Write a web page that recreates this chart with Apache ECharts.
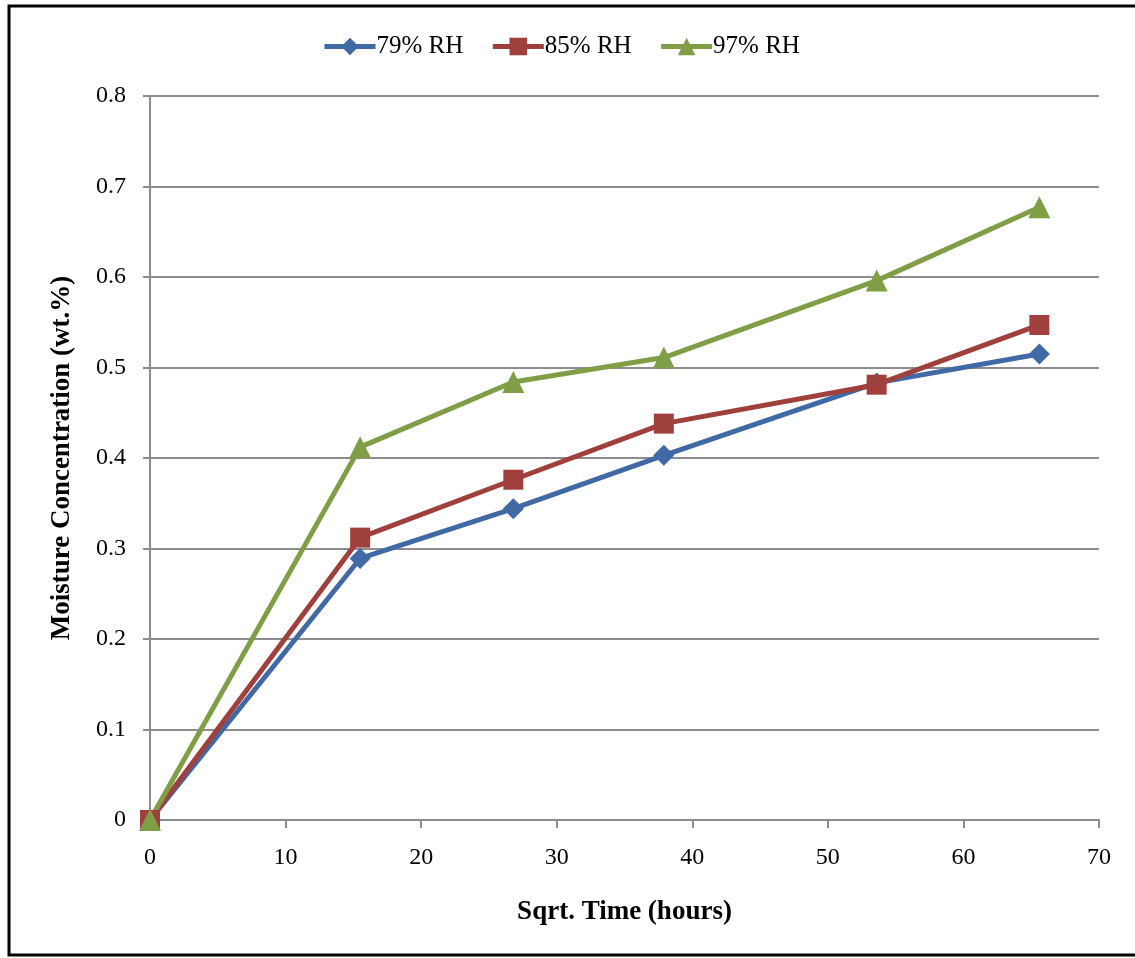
<!DOCTYPE html>
<html>
<head>
<meta charset="utf-8">
<script src="https://cdn.jsdelivr.net/npm/echarts@6/dist/echarts.min.js"></script>
<style>
  html, body { margin: 0; padding: 0; background: #fff; }
  #chart { width: 1135px; height: 958px; }
</style>
</head>
<body>
<div id="chart"></div>
<script>
// Square root of exposure time (hours^0.5)
const sqrtTime = [0, 15.5, 26.8, 37.9, 53.6, 65.6];
// Moisture uptake (wt.%) at each relative humidity
const rh79 = [0, 0.289, 0.344, 0.403, 0.483, 0.515];
const rh85 = [0, 0.312, 0.376, 0.438, 0.481, 0.547];
const rh97 = [0, 0.412, 0.484, 0.511, 0.596, 0.677];
const seriesNames = ['79% RH', '85% RH', '97% RH'];

const pairs = (ys) => sqrtTime.map((x, i) => [x, ys[i]]);

const font = '"Liberation Serif", "Times New Roman", serif';
const gridColor = '#8c8c8c';

const chart = echarts.init(document.getElementById('chart'), null, { renderer: 'canvas' });

const lineSeries = (name, ys, color, symbol, size) => ({
  name: name,
  type: 'line',
  data: pairs(ys),
  symbol: symbol,
  symbolSize: size,
  clip: false,
  lineStyle: { color: color, width: 5 },
  itemStyle: { color: color },
  emphasis: { disabled: true }
});

chart.setOption({
  animation: false,
  backgroundColor: '#fff',
  textStyle: { fontFamily: font },
  graphic: [{
    type: 'rect',
    shape: { x: 9, y: 6, width: 1300, height: 949 },
    style: { fill: 'none', stroke: '#000', lineWidth: 3 },
    silent: true
  }],
  legend: {
    top: 29,
    left: 317,
    itemWidth: 51,
    itemHeight: 22,
    itemGap: 27,
    lineStyle: { width: 5 },
    textStyle: { fontFamily: font, fontSize: 25, color: '#000', padding: [0, 0, 0, -4] },
    data: seriesNames
  },
  grid: { left: 150, right: 36, top: 96, bottom: 138 },
  xAxis: {
    type: 'value',
    min: 0, max: 70, interval: 10,
    name: 'Sqrt. Time (hours)',
    nameLocation: 'middle',
    nameGap: 79,
    nameTextStyle: { fontFamily: font, fontSize: 27, fontWeight: 'bold', color: '#000' },
    axisLine: { show: true, lineStyle: { color: gridColor, width: 2 } },
    axisTick: { show: true, length: 8, lineStyle: { color: gridColor, width: 2 } },
    axisLabel: { fontFamily: font, fontSize: 24, color: '#000', margin: 26 },
    splitLine: { show: false }
  },
  yAxis: {
    type: 'value',
    min: 0, max: 0.8, interval: 0.1,
    name: 'Moisture Concentration (wt.%)',
    nameLocation: 'middle',
    nameGap: 74,
    nameTextStyle: { fontFamily: font, fontSize: 27, fontWeight: 'bold', color: '#000' },
    axisLine: { show: true, lineStyle: { color: gridColor, width: 2 } },
    axisTick: { show: true, length: 7, lineStyle: { color: gridColor, width: 2 } },
    axisLabel: {
      fontFamily: font, fontSize: 24, color: '#000', margin: 24,
      formatter: (v) => String(Math.round(v * 10) / 10)
    },
    splitLine: { show: true, lineStyle: { color: gridColor, width: 2 } }
  },
  series: [
    lineSeries(seriesNames[0], rh79, '#4069a5', 'diamond', 21),
    lineSeries(seriesNames[1], rh85, '#a0403d', 'rect', 20),
    lineSeries(seriesNames[2], rh97, '#7f9e45', 'triangle', 22)
  ]
});
</script>
</body>
</html>
